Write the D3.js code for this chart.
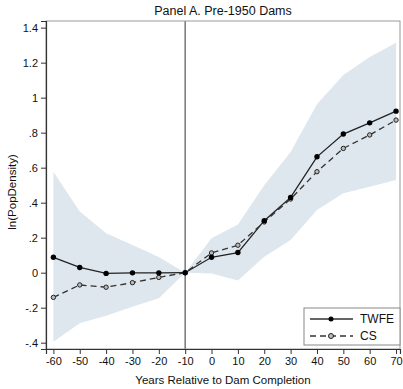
<!DOCTYPE html>
<html lang="en">
<head>
<meta charset="utf-8">
<title>Panel A. Pre-1950 Dams</title>
<script src="https://cdn.jsdelivr.net/npm/d3@7/dist/d3.min.js"></script>
<style>
  body { margin: 0; background: #fff; }
  #chart { width: 403px; height: 389px; }
  text { font-family: "Liberation Sans", Arial, sans-serif; fill: #111; }
</style>
</head>
<body>
<div id="chart"></div>
<script>
// years relative to completion
var years = [-60, -50, -40, -30, -20, -10, 0, 10, 20, 30, 40, 50, 60, 70];
var twfe = [0.088, 0.030, -0.004, -0.001, -0.001, 0, 0.088, 0.115, 0.297, 0.43, 0.662, 0.792, 0.856, 0.923];
var cs = [-0.141, -0.070, -0.083, -0.057, -0.027, 0, 0.113, 0.157, 0.29, 0.421, 0.577, 0.71, 0.787, 0.872];
var ciUpper = [0.577, 0.349, 0.225, 0.158, 0.09, 0, 0.197, 0.275, 0.5, 0.69, 0.962, 1.13, 1.232, 1.314];
var ciLower = [-0.394, -0.289, -0.246, -0.194, -0.146, 0, -0.004, -0.044, 0.091, 0.187, 0.358, 0.454, 0.491, 0.53];
var yTicks = [-0.4, -0.2, 0, 0.2, 0.4, 0.6, 0.8, 1, 1.2, 1.4];
var xTicks = [-60, -50, -40, -30, -20, -10, 0, 10, 20, 30, 40, 50, 60, 70];

var W = 403, H = 389;
var margin = {top: 21, right: 3, bottom: 40, left: 46};
var width = W - margin.left - margin.right,
    height = H - margin.top - margin.bottom;

var svg = d3.select("#chart").append("svg")
    .attr("width", W).attr("height", H);
var g = svg.append("g")
    .attr("transform", "translate(" + margin.left + "," + margin.top + ")");

var x = d3.scaleLinear().domain([-62.8, 71.5]).range([0, width]);
var y = d3.scaleLinear().domain([-0.436, 1.438]).range([height, 0]);

var rows = years.map(function(d, i) {
    return {yr: d, twfe: twfe[i], cs: cs[i], lo: ciLower[i], hi: ciUpper[i]};
});

// confidence band
g.append("path")
    .datum(rows)
    .attr("fill", "#dfe7ee")
    .attr("d", d3.area()
        .x(function(d) { return x(d.yr); })
        .y0(function(d) { return y(d.lo); })
        .y1(function(d) { return y(d.hi); }));

// reference line
g.append("line")
    .attr("x1", x(-10)).attr("x2", x(-10))
    .attr("y1", 0).attr("y2", height)
    .attr("stroke", "#777").attr("stroke-width", 1.5);

// frame
g.append("rect")
    .attr("width", width).attr("height", height)
    .attr("fill", "none").attr("stroke", "#999").attr("stroke-width", 1);

// axes (plain hyphen for negatives, stata style)
var xAxis = d3.axisBottom(x).tickValues(xTicks).tickSize(5).tickPadding(3)
    .tickFormat(function(d) { return String(d); });
var yAxis = d3.axisLeft(y).tickValues(yTicks).tickSize(5).tickPadding(3)
    .tickFormat(function(d) {
        if (d === 0) return "0";
        if (d === 1) return "1";
        return String(d).replace("0.", ".");
    });

var gx = g.append("g").attr("transform", "translate(0," + height + ")").call(xAxis);
var gy = g.append("g").call(yAxis);
[gx, gy].forEach(function(a) {
    a.select(".domain").attr("stroke", "#333").attr("stroke-width", 1.2);
    a.selectAll(".tick line").attr("stroke", "#333");
    a.selectAll(".tick text").attr("font-size", 11).attr("fill", "#111");
});

// series lines
var line = function(key) {
    return d3.line().x(function(d) { return x(d.yr); }).y(function(d) { return y(d[key]); });
};
g.append("path").datum(rows)
    .attr("fill", "none").attr("stroke", "#222").attr("stroke-width", 1.3)
    .attr("d", line("twfe"));
g.append("path").datum(rows)
    .attr("fill", "none").attr("stroke", "#333").attr("stroke-width", 1.3)
    .attr("stroke-dasharray", "6,4")
    .attr("d", line("cs"));

g.selectAll(".pcs").data(rows).enter().append("circle")
    .attr("cx", function(d) { return x(d.yr); })
    .attr("cy", function(d) { return y(d.cs); })
    .attr("r", 2.2)
    .attr("fill", "#bbb").attr("stroke", "#222").attr("stroke-width", 1);
g.selectAll(".ptw").data(rows).enter().append("circle")
    .attr("cx", function(d) { return x(d.yr); })
    .attr("cy", function(d) { return y(d.twfe); })
    .attr("r", 2.7)
    .attr("fill", "#000");

// legend
var leg = svg.append("g").attr("transform", "translate(304,308)");
leg.append("rect").attr("width", 96).attr("height", 37)
    .attr("fill", "#fff").attr("stroke", "#888").attr("stroke-width", 1);
var items = [{name: "TWFE", dash: null, fill: "#000"}, {name: "CS", dash: "6,4", fill: "#bbb"}];
var li = leg.selectAll(".li").data(items).enter().append("g")
    .attr("transform", function(d, i) { return "translate(0," + (11 + i * 17) + ")"; });
li.append("line").attr("x1", 6).attr("x2", 49)
    .attr("stroke", "#333").attr("stroke-width", 1.3)
    .attr("stroke-dasharray", function(d) { return d.dash; });
li.append("circle").attr("cx", 27).attr("r", 2.5)
    .attr("fill", function(d) { return d.fill; })
    .attr("stroke", function(d, i) { return i ? "#222" : "none"; });
li.append("text").attr("x", 56).attr("dy", "0.35em")
    .attr("font-size", 12).text(function(d) { return d.name; });

// titles
svg.append("text").attr("x", margin.left + width / 2).attr("y", 15)
    .attr("text-anchor", "middle").attr("font-size", 12.5)
    .text("Panel A. Pre-1950 Dams");
svg.append("text").attr("x", margin.left + width / 2).attr("y", 384)
    .attr("text-anchor", "middle").attr("font-size", 11.5)
    .text("Years Relative to Dam Completion");
svg.append("text")
    .attr("transform", "translate(16,192) rotate(-90)")
    .attr("text-anchor", "middle").attr("font-size", 11.5)
    .text("ln(PopDensity)");
</script>
</body>
</html>
